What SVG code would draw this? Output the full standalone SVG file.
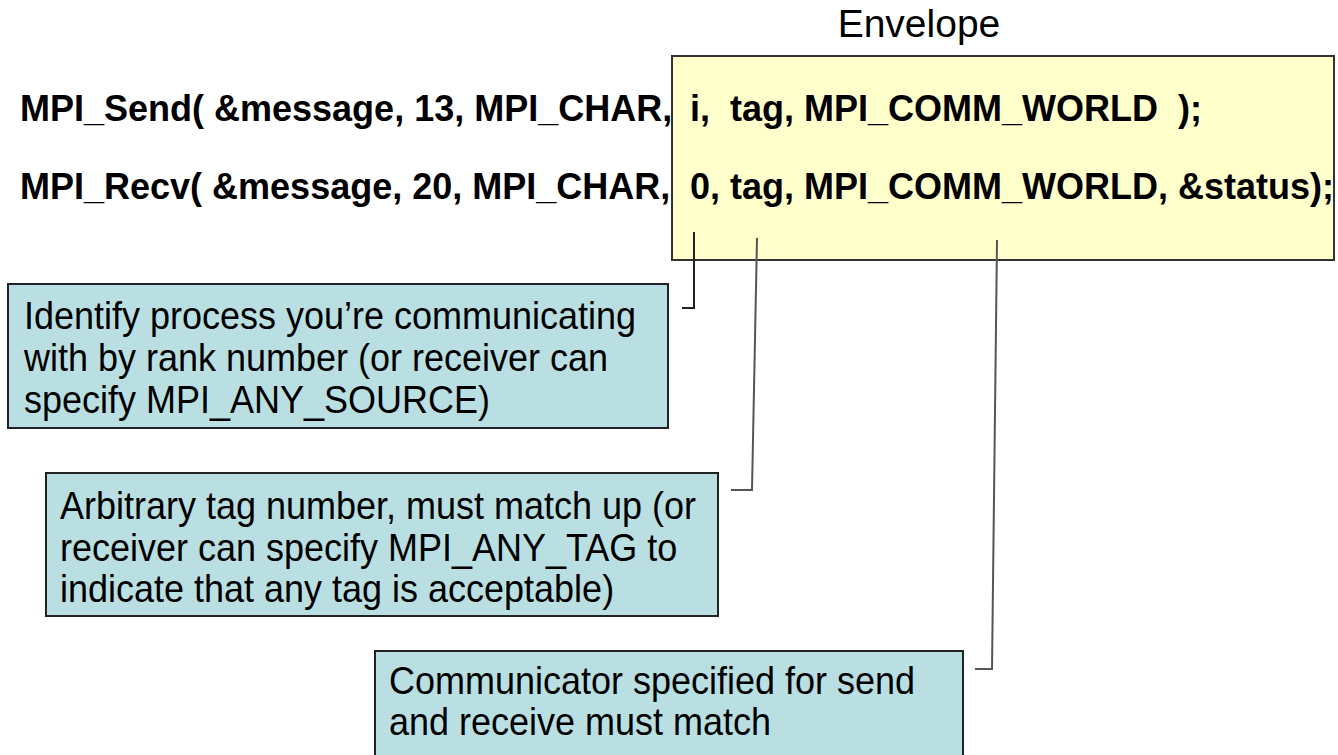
<svg xmlns="http://www.w3.org/2000/svg" width="1338" height="755" viewBox="0 0 1338 755">
  <style>
    .code { font-family: "Liberation Sans", Arial, sans-serif; font-weight: bold; font-size: 36px; fill: #000; white-space: pre; }
    .note { font-family: "Liberation Sans", Arial, sans-serif; font-size: 36px; fill: #000; }
    .title { font-family: "Liberation Sans", Arial, sans-serif; font-size: 39px; fill: #000; }
    .envelope { fill: #FFFFCC; stroke: #333; stroke-width: 2; }
    .callout { fill: #B9DFE2; stroke: #222; stroke-width: 2; }
    .lead { fill: none; stroke-width: 2; }
  </style>

  <!-- envelope region holding source, tag and communicator -->
  <g id="envelope">
    <rect class="envelope" x="672" y="56" width="662" height="204"/>
    <text class="title" x="919" y="37" text-anchor="middle">Envelope</text>
  </g>

  <g id="send-call">
    <text class="code" x="20" y="121" xml:space="preserve">MPI_Send( &amp;message, 13, MPI_CHAR,</text>
    <text class="code" x="690" y="121" xml:space="preserve">i,  tag, MPI_COMM_WORLD  );</text>
  </g>

  <g id="recv-call">
    <text class="code" x="20" y="199" xml:space="preserve">MPI_Recv( &amp;message, 20, MPI_CHAR,</text>
    <text class="code" x="690" y="199" xml:space="preserve">0, tag, MPI_COMM_WORLD, &amp;status);</text>
  </g>

  <!-- leader lines from each envelope argument to its note -->
  <g id="connectors">
    <polyline class="lead" stroke="#222" points="694,232 694,308 682,308"/>
    <polyline class="lead" stroke="#555" points="757,238 752,490 731,490"/>
    <polyline class="lead" stroke="#555" points="997,240 992,669 975,669"/>
  </g>

  <!-- note text is slightly stretched vertically -->
  <g id="note-source">
    <rect class="callout" x="8" y="284" width="660" height="144"/>
    <text class="note" transform="translate(24,329) scale(1,1.07)">Identify process you’re communicating</text>
    <text class="note" transform="translate(24,371) scale(1,1.07)">with by rank number (or receiver can</text>
    <text class="note" transform="translate(24,413) scale(1,1.07)">specify MPI_ANY_SOURCE)</text>
  </g>

  <g id="note-tag">
    <rect class="callout" x="46" y="473" width="672" height="143"/>
    <text class="note" transform="translate(60,519) scale(1,1.07)">Arbitrary tag number, must match up (or</text>
    <text class="note" transform="translate(60,561) scale(1,1.07)">receiver can specify MPI_ANY_TAG to</text>
    <text class="note" transform="translate(60,602) scale(1,1.07)">indicate that any tag is acceptable)</text>
  </g>

  <g id="note-comm">
    <rect class="callout" x="375" y="651" width="588" height="120"/>
    <text class="note" transform="translate(389,694) scale(1,1.07)">Communicator specified for send</text>
    <text class="note" transform="translate(389,735) scale(1,1.07)">and receive must match</text>
  </g>
</svg>
